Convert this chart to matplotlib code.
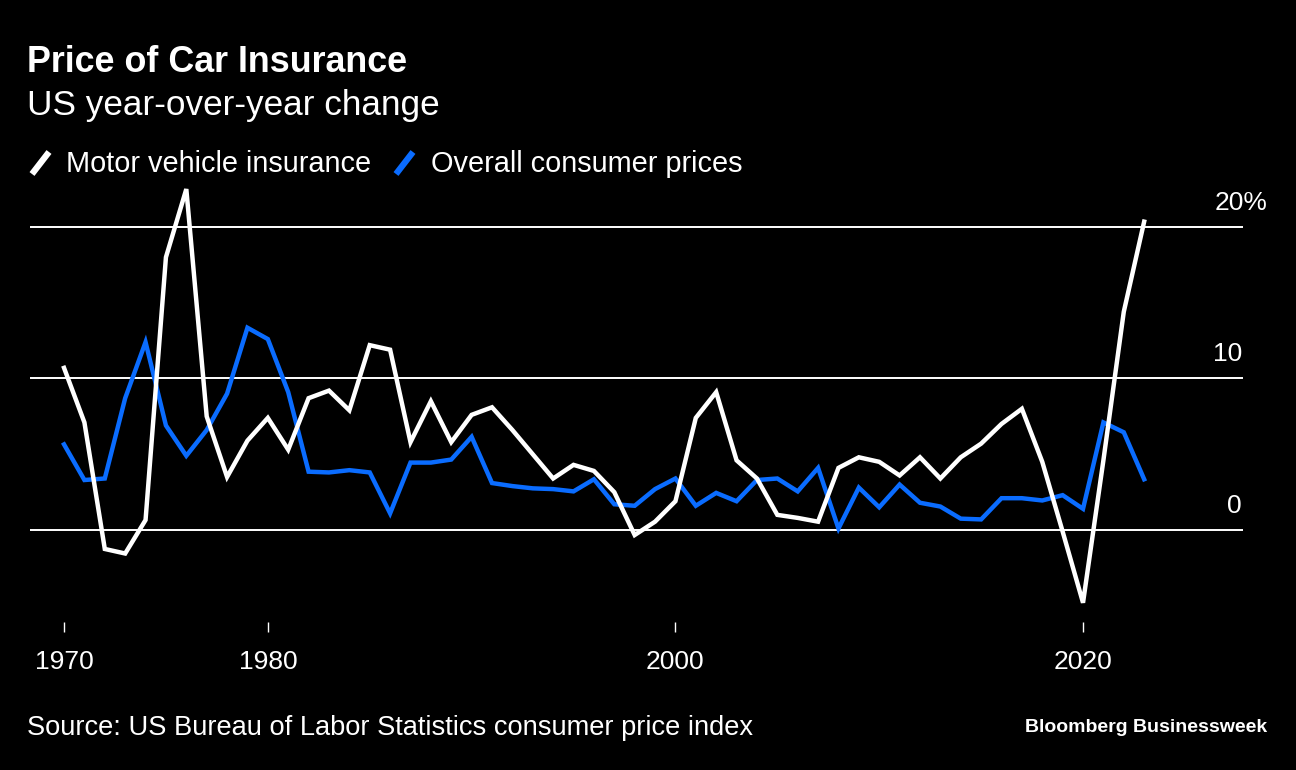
import matplotlib
matplotlib.use("Agg")
import matplotlib.pyplot as plt
from matplotlib.lines import Line2D

plt.rcParams['font.family'] = ['Liberation Sans', 'DejaVu Sans']

# year-over-year change, %
years = list(range(1970, 2024))
insurance = [10.7, 7.1, -1.25, -1.55, 0.66, 18.0, 22.5, 7.5, 3.5, 5.9,
             7.4, 5.3, 8.7, 9.2, 7.9, 12.2, 11.9, 5.8, 8.5, 5.8,
             7.6, 8.1, 6.6, 5.0, 3.4, 4.3, 3.9, 2.5, -0.33, 0.55,
             1.9, 7.4, 9.1, 4.6, 3.4, 1.0, 0.8, 0.55, 4.1, 4.8,
             4.5, 3.6, 4.8, 3.4, 4.8, 5.7, 7.0, 8.0, 4.5, -0.1,
             -4.8, 4.6, 14.4, 20.35]
cpi = [5.65, 3.3, 3.4, 8.7, 12.4, 6.9, 4.9, 6.6, 9.0, 13.35,
       12.6, 9.1, 3.85, 3.8, 3.95, 3.8, 1.1, 4.45, 4.45, 4.65,
       6.15, 3.1, 2.9, 2.75, 2.7, 2.55, 3.35, 1.7, 1.6, 2.7,
       3.4, 1.6, 2.45, 1.9, 3.3, 3.4, 2.55, 4.1, 0.1, 2.8,
       1.5, 3.0, 1.8, 1.55, 0.75, 0.7, 2.1, 2.1, 1.95, 2.3,
       1.4, 7.1, 6.45, 3.35]

x_ticks = [1970, 1980, 2000, 2020]
y_grid = [0, 10, 20]
y_labels = ['0', '10', '20%']

white = '#ffffff'
blue = '#0a6cff'

fig = plt.figure(figsize=(12.96, 7.7), dpi=100, facecolor='black')
ax = fig.add_axes([30 / 1296, 1 - 622 / 770, 1213 / 1296, 440.5 / 770])
ax.set_facecolor('black')

for g in y_grid:
    ax.axhline(g, color=white, lw=1.4, zorder=1)

ax.plot(years, cpi, color=blue, lw=3.2, solid_joinstyle='miter', zorder=2)
ax.plot(years, insurance, color=white, lw=3.2, solid_joinstyle='miter', zorder=3)

ax.set_xlim(1968.33, 2027.85)
ax.set_ylim(-6.07, 23)

for s in ax.spines.values():
    s.set_visible(False)
ax.set_yticks([])
ax.set_xticks(x_ticks)
ax.set_xticklabels([str(t) for t in x_ticks])
ax.tick_params(axis='x', colors=white, length=7, width=1, direction='out',
               pad=13, labelsize=19)

# right-hand value labels sitting above the grid lines
for g, lab in zip(y_grid, y_labels):
    xpos = 1.0198 if lab.endswith('%') else 0.9992
    ax.annotate(lab, xy=(xpos, g), xycoords=ax.get_yaxis_transform(),
                xytext=(0, 12.5), textcoords='offset points',
                ha='right', va='baseline', color=white, fontsize=19)

# titles
fig.text(27 / 1296, 1 - 62 / 770, 'Price of Car Insurance', color=white,
         fontsize=25.8, fontweight='bold', ha='left', va='center')
fig.text(27 / 1296, 1 - 105 / 770, 'US year-over-year change', color=white,
         fontsize=25.3, ha='left', va='center')

# legend
for x0, x1, col, lab in [(32, 66, white, 'Motor vehicle insurance'),
                         (396, 431, blue, 'Overall consumer prices')]:
    fig.add_artist(Line2D([x0 / 1296, (x0 + 17) / 1296],
                          [1 - 174 / 770, 1 - 152 / 770],
                          color=col, lw=4.5, solid_capstyle='butt',
                          transform=fig.transFigure))
    fig.text(x1 / 1296, 1 - 164 / 770, lab, color=white,
             fontsize=20.8, ha='left', va='center')

# footer
fig.text(27 / 1296, 1 - 728 / 770,
         'Source: US Bureau of Labor Statistics consumer price index',
         color=white, fontsize=19.6, ha='left', va='center')
fig.text(1267 / 1296, 1 - 728 / 770, 'Bloomberg Businessweek', color=white,
         fontsize=14, fontweight='bold', ha='right', va='center')

fig.savefig('out.png', dpi=100, facecolor='black')
